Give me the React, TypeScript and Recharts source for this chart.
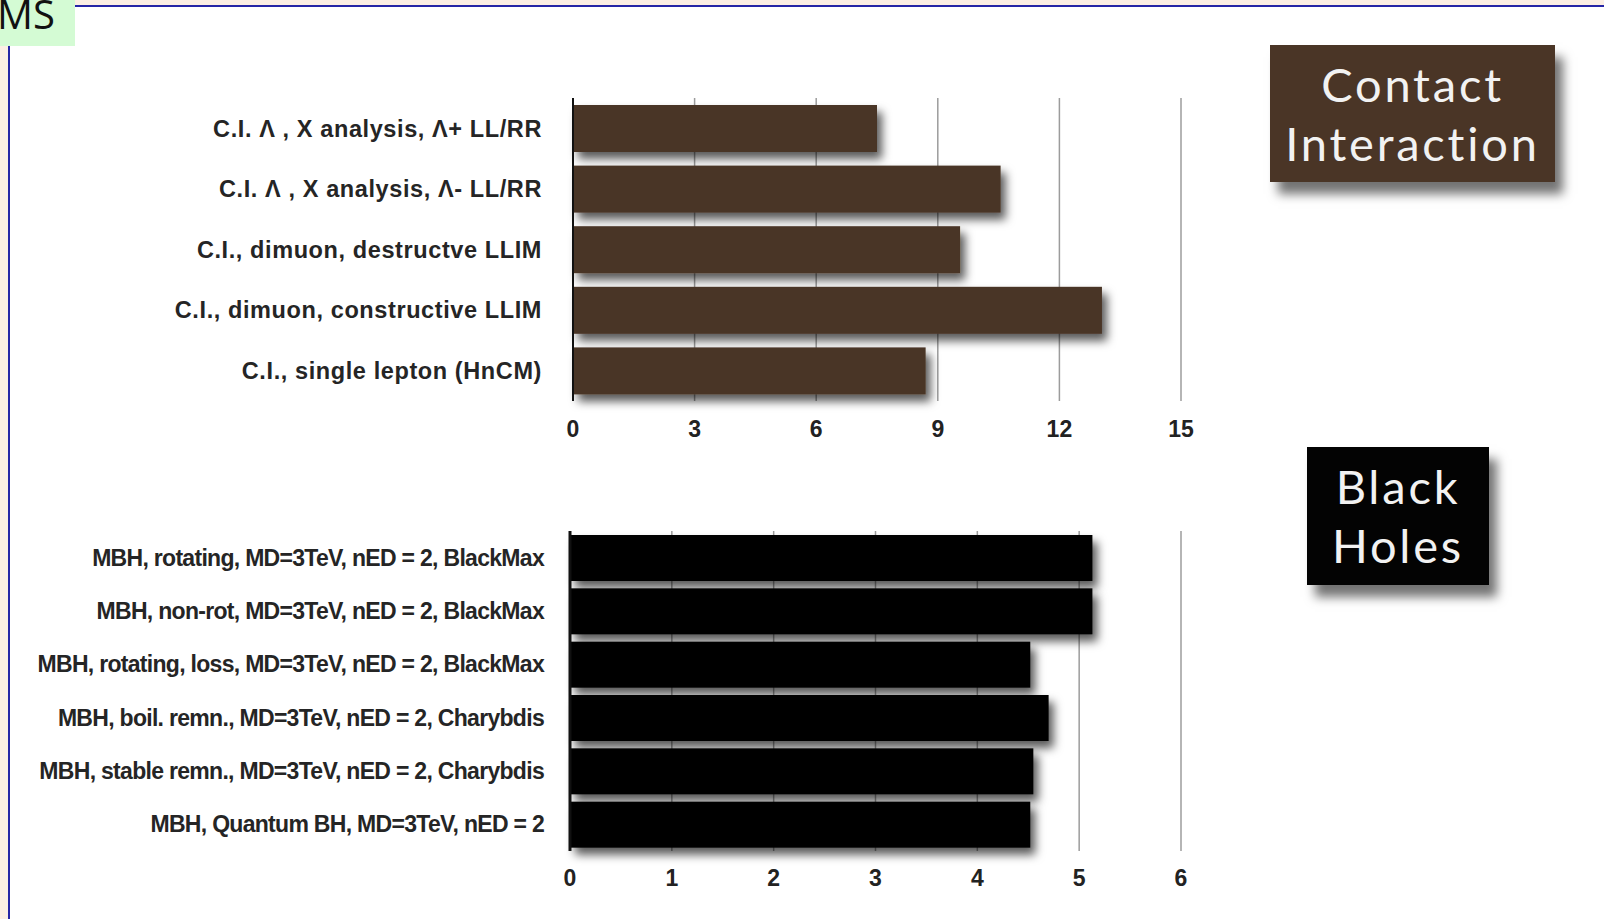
import React from 'react';
import { BarChart, Bar, XAxis, YAxis, CartesianGrid } from 'recharts';

// Contact interaction limits (TeV)
const ciLabels = [
  'C.I. Λ , X analysis, Λ+ LL/RR',
  'C.I. Λ , X analysis, Λ- LL/RR',
  'C.I., dimuon, destructve LLIM',
  'C.I., dimuon, constructive LLIM',
  'C.I., single lepton (HnCM)',
];
const ciValues = [7.5, 10.55, 9.55, 13.05, 8.7];
const ciTicks = [0, 3, 6, 9, 12, 15];

// Black hole limits (TeV)
const bhLabels = [
  'MBH, rotating, MD=3TeV, nED = 2, BlackMax',
  'MBH, non-rot, MD=3TeV, nED = 2, BlackMax',
  'MBH, rotating, loss, MD=3TeV, nED = 2, BlackMax',
  'MBH, boil. remn., MD=3TeV, nED = 2, Charybdis',
  'MBH, stable remn., MD=3TeV, nED = 2, Charybdis',
  'MBH, Quantum BH, MD=3TeV, nED = 2',
];
const bhValues = [5.13, 5.13, 4.52, 4.7, 4.55, 4.52];
const bhTicks = [0, 1, 2, 3, 4, 5, 6];

const ciData = ciLabels.map((name, i) => ({ name, value: ciValues[i] }));
const bhData = bhLabels.map((name, i) => ({ name, value: bhValues[i] }));

const FONT = '"Liberation Sans", Arial, sans-serif';

const ShadowBar = (props: any) => {
  const { x, y, width, height, fill } = props;
  return <rect x={x} y={y} width={width} height={height} fill={fill} filter="url(#barShadow)" />;
};

const boxStyle: React.CSSProperties = {
  position: 'absolute',
  color: '#f2f2f2',
  fontFamily: 'Lato, "Open Sans", sans-serif',
  fontSize: 47,
  lineHeight: '59px',
  letterSpacing: 2.8,
  textAlign: 'center',
  boxShadow: '8px 12px 10px rgba(0,0,0,0.55)',
  display: 'flex',
  alignItems: 'center',
  justifyContent: 'center',
};

const App: React.FC = () => {
  return (
    <div style={{ position: 'absolute', left: 0, top: 0, width: 1604, height: 919, background: '#fcefe4', overflow: 'hidden' }}>
      <svg width={0} height={0} style={{ position: 'absolute' }}>
        <defs>
          <filter id="barShadow" x="-10%" y="-30%" width="130%" height="180%">
            <feDropShadow dx={5} dy={7} stdDeviation={5} floodColor="#000" floodOpacity={0.65} />
          </filter>
        </defs>
      </svg>

      {/* white slide panel with blue frame */}
      <div style={{ position: 'absolute', left: 8, top: 5, width: 1610, height: 930, background: '#fff', borderTop: '2px solid #2626a6', borderLeft: '2px solid #2626a6' }} />
      <div style={{ position: 'absolute', left: 0, top: 0, width: 75, height: 46, background: '#d4fbd4', overflow: 'hidden' }}>
        <span style={{ position: 'absolute', left: -3, top: -14, fontFamily: '"Open Sans", sans-serif', fontSize: 40, color: '#111' }}>MS</span>
      </div>

      {/* top chart */}
      <div style={{ position: 'absolute', left: 0, top: 98 }}>
        <BarChart width={1200} height={353} data={ciData} layout="vertical" margin={{ top: 0, right: 19, left: 0, bottom: 0 }}>
          <CartesianGrid horizontal={false} stroke="#9c9c9c" strokeWidth={1.5} />
          <XAxis type="number" domain={[0, 15]} ticks={ciTicks} axisLine={false} tickLine={false} tickSize={0} tickMargin={20} height={50}
            tick={{ fontSize: 23, fontWeight: 'bold', fill: '#222', fontFamily: FONT }} />
          <YAxis type="category" dataKey="name" width={573} interval={0} axisLine={{ stroke: '#111', strokeWidth: 2 }} tickLine={false} tickSize={0} tickMargin={31}
            tick={{ fontSize: 23.5, fontWeight: 'bold', fill: '#252525', fontFamily: FONT, letterSpacing: 0.6 }} />
          <Bar dataKey="value" fill="#4a3526" barSize={47} shape={ShadowBar} isAnimationActive={false} />
        </BarChart>
      </div>

      {/* bottom chart */}
      <div style={{ position: 'absolute', left: 0, top: 531 }}>
        <BarChart width={1200} height={370} data={bhData} layout="vertical" margin={{ top: 0, right: 19, left: 0, bottom: 0 }}>
          <CartesianGrid horizontal={false} stroke="#9c9c9c" strokeWidth={1.5} />
          <XAxis type="number" domain={[0, 6]} ticks={bhTicks} axisLine={false} tickLine={false} tickSize={0} tickMargin={19} height={50}
            tick={{ fontSize: 23, fontWeight: 'bold', fill: '#222', fontFamily: FONT }} />
          <YAxis type="category" dataKey="name" width={570} interval={0} axisLine={{ stroke: '#111', strokeWidth: 3 }} tickLine={false} tickSize={0} tickMargin={26}
            tick={{ fontSize: 23, fontWeight: 'bold', fill: '#252525', fontFamily: FONT, letterSpacing: -0.7 }} />
          <Bar dataKey="value" fill="#050505" barSize={46} shape={ShadowBar} isAnimationActive={false} />
        </BarChart>
      </div>

      <div style={{ ...boxStyle, left: 1270, top: 45, width: 285, height: 137, background: '#4a3526' }}>
        <div>Contact<br />Interaction</div>
      </div>
      <div style={{ ...boxStyle, left: 1307, top: 447, width: 182, height: 138, background: '#030303' }}>
        <div>Black<br />Holes</div>
      </div>
    </div>
  );
};

export default App;
